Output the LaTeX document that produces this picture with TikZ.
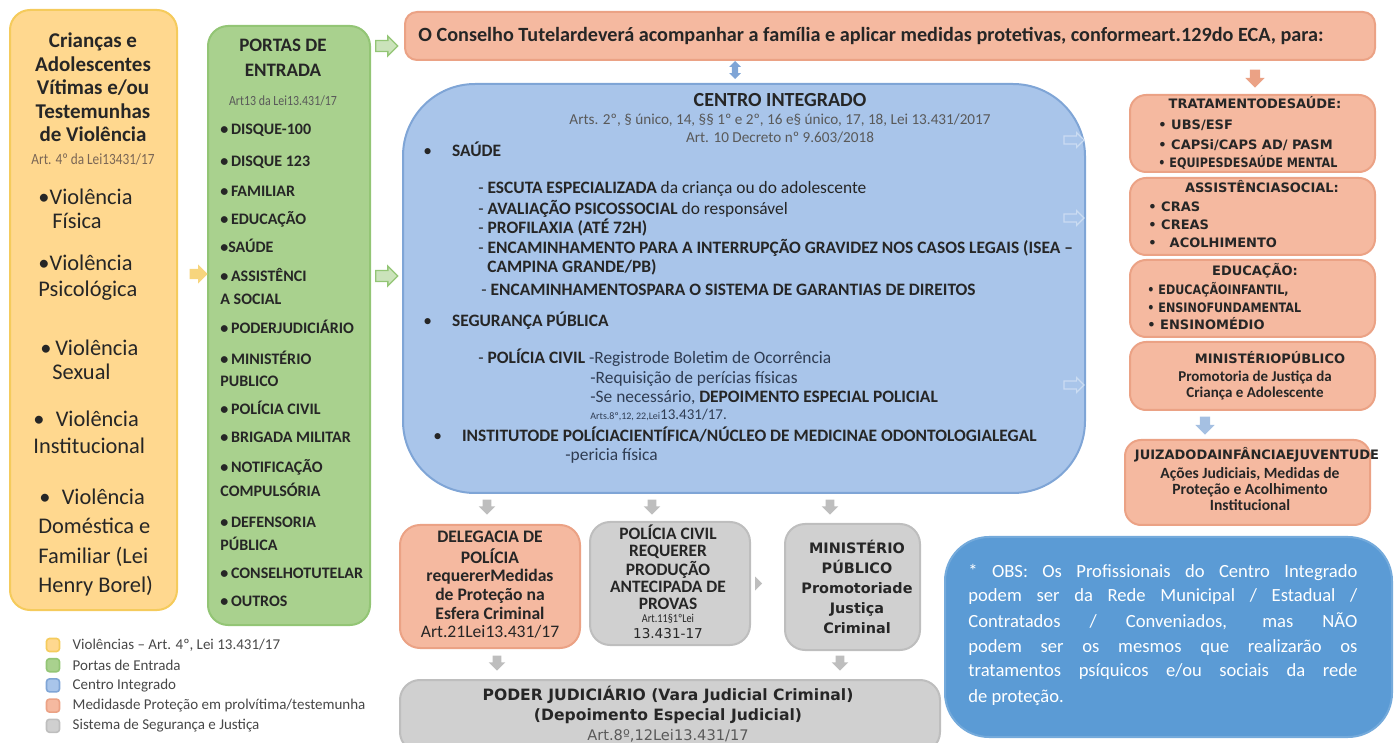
\documentclass[tikz,border=0pt]{standalone}
\usepackage{fontspec}
\setmainfont{Carlito}
\newfontfamily\cnd[FakeStretch=0.85]{Carlito}
\newfontfamily\vfont{DejaVu Sans}
\newfontfamily\vcnd[FakeStretch=0.86]{DejaVu Sans}
\usetikzlibrary{positioning,fit,shapes.arrows}
\definecolor{yfill}{HTML}{FFD88F}
\definecolor{ydraw}{HTML}{F5CB5C}
\definecolor{gfill}{HTML}{A9D18E}
\definecolor{gdraw}{HTML}{93C575}
\definecolor{sfill}{HTML}{F5B9A0}
\definecolor{sdraw}{HTML}{EBA285}
\definecolor{bfill}{HTML}{A9C5EA}
\definecolor{bdraw}{HTML}{7FA5D6}
\definecolor{cfill}{HTML}{D0D0D0}
\definecolor{cdraw}{HTML}{BEBEBE}
\definecolor{ofill}{HTML}{5B9BD5}
\definecolor{txt}{HTML}{262626}
\definecolor{grtxt}{HTML}{595959}
\definecolor{brtxt}{HTML}{7A6655}
\definecolor{navy}{HTML}{2F3C52}
\newcommand{\tabc}[1]{\begin{tabular}[t]{@{}c@{}}#1\end{tabular}}
\tikzset{bbox/.style={rounded corners=10pt,line width=1pt,inner sep=0pt},
         vict/.style={bbox,fill=yfill,draw=ydraw},
         porta/.style={bbox,fill=gfill,draw=gdraw},
         medida/.style={bbox,fill=sfill,draw=sdraw},
         centro/.style={bbox,rounded corners=36pt,fill=bfill,draw=bdraw},
         sist/.style={bbox,fill=cfill,draw=cdraw},
         obsbox/.style={bbox,rounded corners=22pt,fill=ofill,draw=ofill!85!white},
         lbl/.style={inner sep=0pt,text=txt},
         lft/.style={lbl,anchor=base west},
         mid/.style={lbl,anchor=base},
         ctx/.style={lft,font=\fontsize{8.7}{10}\selectfont},
         rtit/.style={mid,font=\vfont\bfseries\fontsize{6.5}{8}\selectfont},
         ritem/.style={lft,font=\vfont\bfseries\fontsize{6.5}{8}\selectfont},
         gitem/.style={lft,font=\bfseries\fontsize{8}{9}\selectfont},
         legsq/.style={rounded corners=1.5pt,line width=0.8pt,minimum size=6.5pt,inner sep=0pt},
         legtx/.style={lbl,text=txt!85!white,font=\fontsize{7.5}{9}\selectfont},
         barrow/.style={single arrow,draw=none,inner xsep=0pt,inner ysep=2.4pt,minimum width=0pt,minimum height=9pt,single arrow head extend=2.2pt},
         darrow/.style={barrow,rotate=-90,fill=cdraw,inner ysep=2pt,single arrow head extend=2pt,minimum height=7.5pt},
         harrow/.style={barrow,fill=none,line width=0.6pt,inner ysep=1.7pt,single arrow head extend=1.7pt,minimum height=10pt}
}

\begin{document}
\begin{tikzpicture}[x=0.5pt,y=-0.5pt]
\useasboundingbox (0,0) rectangle (1394,743);

% boxes
\node[vict,fit={(10,10) (177,610)}] (vit) {};
\node[porta,fit={(208,26) (370,625)}] (portas) {};
\node[medida,rounded corners=6pt,fit={(405,12) (1375,60)}] (conselho) {};
\node[centro,fit={(403,84) (1085,493)}] (centro) {};
\node[medida,rounded corners=8pt,fit={(1130,95) (1375,172)}] (trat) {};
\node[medida,rounded corners=8pt,fit={(1130,178) (1375,255)}] (assist) {};
\node[medida,rounded corners=8pt,fit={(1130,260) (1375,337)}] (educ) {};
\node[medida,rounded corners=8pt,fit={(1130,342) (1375,410)}] (mp) {};
\node[medida,rounded corners=8pt,fit={(1125,440) (1370,525)}] (juiz) {};
\node[medida,fit={(400,525) (580,648)}] (deleg) {};
\node[sist,fit={(590,522) (750,645)}] (pcivil) {};
\node[sist,fit={(785,524) (920,650)}] (mpcrim) {};
\node[sist,fit={(400,680) (940,752)}] (poder) {};
\node[obsbox,fit={(945,537) (1392,737)}] (obs) {};

% criancas e adolescentes
\node[mid,font=\bfseries\fontsize{10.5}{11.75}\selectfont] (vitt) at (93,48) {\tabc{Crianças e\\Adolescentes\\Vítimas e/ou\\Testemunhas\\de Violência}};
\node[mid,text=brtxt,font=\cnd\fontsize{7.8}{9}\selectfont] at (93,165) {Art. 4º da Lei13431/17};
\foreach \xx/\yy/\txt in {38/205/{\textbullet Violência},52/229/Física,38/271/{\textbullet Violência},38/297/Psicológica,
  40/356/{\textbullet\,Violência},52/380/Sexual,33/427/{\textbullet\enspace Violência},33/454/Institucional,
  39/505/{\textbullet\enspace Violência},38/534/{Doméstica e},38/563/{Familiar (Lei},38/592/{Henry Borel)}}
  \node[lft,font=\fontsize{11.2}{12}\selectfont] at (\xx,\yy) {\txt};

% portas de entrada
\node[mid,font=\bfseries\fontsize{9.5}{12.5}\selectfont] (portt) at (283,52) {\tabc{PORTAS DE\\ENTRADA}};
\node[mid,text=grtxt,font=\cnd\fontsize{7}{9}\selectfont] at (283,106) {Art13 da Lei13.431/17};
\foreach \yy/\txt in {135/{\textbullet\,DISQUE-100},167/{\textbullet\,DISQUE 123},197/{\textbullet\,FAMILIAR},
  225/{\textbullet\,EDUCAÇÃO},253/{\textbullet SAÚDE},282/{\textbullet\,ASSISTÊNCI},305/{A SOCIAL},
  334/{\textbullet\,PODERJUDICIÁRIO},365/{\textbullet\,MINISTÉRIO},387/{PUBLICO},415/{\textbullet\,POLÍCIA CIVIL},
  443/{\textbullet\,BRIGADA MILITAR},473/{\textbullet\,NOTIFICAÇÃO},496/{COMPULSÓRIA},528/{\textbullet\,DEFENSORIA},
  551/{PÚBLICA},578/{\textbullet\,CONSELHOTUTELAR},606/{\textbullet\,OUTROS}}
  \node[gitem] at (220,\yy) {\txt};

% conselho tutelar
\node[lft,font=\bfseries\fontsize{10.1}{11}\selectfont] at (418,42) {O Conselho Tutelardeverá acompanhar a família e aplicar medidas protetivas, conformeart.129do ECA, para:};

% centro integrado
\node[mid,font=\bfseries\fontsize{10}{12}\selectfont] (centt) at (780,107) {CENTRO INTEGRADO};
\node[mid,text=grtxt,font=\fontsize{7.6}{9}\selectfont] at (780,125) {\tabc{Arts. 2º, § único, 14, §§ 1º e 2º, 16 e§ único, 17, 18, Lei 13.431/2017\\Art. 10 Decreto nº 9.603/2018}};
\node[ctx] (s1) at (423,157) {\textbullet\hspace{10pt}\textbf{SAÚDE}};
\node[ctx] (s2) at (478,194) {- \textbf{ESCUTA ESPECIALIZADA} da criança ou do adolescente};
\node[ctx] (s3) at (478,215) {- \textbf{AVALIAÇÃO PSICOSSOCIAL} do responsável};
\node[ctx] (s4) at (478,234) {- \textbf{PROFILAXIA (ATÉ 72H)}};
\node[ctx] (s5) at (478,254) {- \textbf{ENCAMINHAMENTO PARA A INTERRUPÇÃO GRAVIDEZ NOS CASOS LEGAIS (ISEA –}};
\node[ctx] (s6) at (487,273) {\textbf{CAMPINA GRANDE/PB)}};
\node[ctx] (s7) at (481,296) {- \textbf{ENCAMINHAMENTOSPARA O SISTEMA DE GARANTIAS DE DIREITOS}};
\node[ctx] (g1) at (423,327) {\textbullet\hspace{10pt}\textbf{SEGURANÇA PÚBLICA}};
\node[ctx] (g2) at (478,364) {- \textbf{POLÍCIA CIVIL} \textcolor{navy}{-Registrode Boletim de Ocorrência}};
\node[ctx,text=navy] (g3) at (590,384) {-Requisição de perícias físicas};
\node[ctx,text=navy] (g4) at (590,403) {-Se necessário, \textcolor{txt}{\textbf{DEPOIMENTO ESPECIAL POLICIAL}}};
\node[ctx,text=navy] (g5) at (590,420) {{\fontsize{5}{6}\selectfont Arts.8º,12, 22,Lei}\fontsize{7.5}{9}\selectfont13.431/17.};
\node[ctx] (i1) at (433,442) {\textbullet\hspace{10pt}\textbf{INSTITUTODE POLÍCIACIENTÍFICA/NÚCLEO DE MEDICINAE ODONTOLOGIALEGAL}};
\node[ctx,text=navy] (i2) at (565,461) {-pericia física};

% rede de protecao
\node[rtit] at (1255,109) {TRATAMENTODESAÚDE:};
\node[ritem] at (1158,130) {\textbullet\ UBS/ESF};
\node[ritem] at (1158,150) {\textbullet\ CAPSi/CAPS AD/ PASM};
\node[ritem,font=\vcnd\bfseries\fontsize{6.5}{8}\selectfont] at (1158,168) {\textbullet\ EQUIPESDESAÚDE MENTAL};
\node[rtit] at (1262,193) {ASSISTÊNCIASOCIAL:};
\node[ritem] at (1148,212) {\textbullet\ CRAS};
\node[ritem] at (1148,230) {\textbullet\ CREAS};
\node[ritem] at (1148,248) {\textbullet\quad ACOLHIMENTO};
\node[rtit] at (1255,276) {EDUCAÇÃO:};
\node[ritem,font=\vcnd\bfseries\fontsize{6.5}{8}\selectfont] at (1147,295) {\textbullet\ EDUCAÇÃOINFANTIL,};
\node[ritem,font=\vcnd\bfseries\fontsize{6.5}{8}\selectfont] at (1147,313) {\textbullet\ ENSINOFUNDAMENTAL};
\node[ritem] at (1147,330) {\textbullet\ ENSINOMÉDIO};
\node[rtit] at (1270,364) {MINISTÉRIOPÚBLICO};
\node[mid,font=\bfseries\fontsize{7.5}{8}\selectfont] at (1255,382) {\tabc{Promotoria de Justiça da\\Criança e Adolescente}};
\node[rtit] at (1257,460) {JUIZADODAINFÂNCIAEJUVENTUDE};
\node[mid,font=\bfseries\fontsize{7.8}{7.8}\selectfont] at (1250,479) {\tabc{Ações Judiciais, Medidas de\\Proteção e Acolhimento\\Institucional}};

% sistema de seguranca e justica
\node[mid,font=\bfseries\fontsize{8.8}{9.3}\selectfont] at (490,543) {\tabc{DELEGACIA DE\\POLÍCIA\\requererMedidas\\de Proteção na\\Esfera Criminal\\\mdseries Art.21Lei13.431/17}};
\node[mid,font=\bfseries\fontsize{8.7}{8.6}\selectfont] at (668,539) {\tabc{POLÍCIA CIVIL\\REQUERER\\PRODUÇÃO\\ANTECIPADA DE\\PROVAS}};
\node[mid,font=\cnd\fontsize{6}{7}\selectfont] at (668,622) {Art.11§1ºLei};
\node[mid,font=\vfont\fontsize{6.8}{8}\selectfont] at (668,639) {13.431-17};
\node[mid,font=\vfont\bfseries\fontsize{7.2}{10}\selectfont] at (857,553) {\tabc{MINISTÉRIO\\PÚBLICO\\Promotoriade\\Justiça\\Criminal}};
\node[mid,font=\vfont\bfseries\fontsize{7.8}{10}\selectfont] at (668,700) {\tabc{PODER JUDICIÁRIO (Vara Judicial Criminal)\\(Depoimento Especial Judicial)\\\mdseries\color{grtxt}\fontsize{7.3}{10}\selectfont Art.8º,12Lei13.431/17}};

% obs
\node[lbl,anchor=base west,text=white,text width=194.5pt,align=justify,font=\fontsize{9.3}{12.5}\selectfont] (obst) at (968,577)
  {* OBS: Os Profissionais do Centro Integrado\linebreak podem ser da Rede Municipal / Estadual /\linebreak Contratados / Conveniados, mas NÃO\linebreak podem ser os mesmos que realizarão os\linebreak tratamentos psíquicos e/ou sociais da rede\linebreak de proteção.};

% setas
\node[barrow,fill=ydraw!80!white] (aY) at (196,274) {};
\node[barrow,fill=gfill!60!white,draw=gdraw,line width=0.7pt,minimum height=11pt] (aG1) at (384,46) {};
\node[barrow,fill=gfill!60!white,draw=gdraw,line width=0.7pt,minimum height=11pt] (aG2) at (384,276) {};
\node[double arrow,rotate=90,fill=bdraw,inner xsep=0pt,inner ysep=1.4pt,minimum width=0pt,minimum height=9pt,double arrow head extend=1.3pt] (aCT) at (735,70) {};
\foreach \yy [count=\i] in {140,218,385}
  \node[harrow,draw=bfill!60!white] (aB\i) at (1072,\yy) {};
\node[barrow,rotate=-90,fill=sdraw] (aS) at (1255,76) {};
\node[barrow,rotate=-90,fill=bdraw!70!white] (aJ) at (1205,423) {};
\foreach \xx/\yy [count=\i] in {487/505,652/505,830/505,497/661,840/661}
  \node[darrow] (aD\i) at (\xx,\yy) {};
\draw[fill=cdraw,draw=none] ([xshift=2pt,yshift=3.5pt]pcivil.east) -- ++(0,-7pt) -- ++(3.5pt,3.5pt) -- cycle;

% legenda
\node[legsq,fill=yfill,draw=ydraw] (lg1) at (53,645) {};
\node[legsq,fill=gfill,draw=gdraw,below=2.8pt of lg1] (lg2) {};
\node[legsq,fill=bfill,draw=bdraw,below=2.8pt of lg2] (lg3) {};
\node[legsq,fill=sfill,draw=sdraw,below=2.8pt of lg3] (lg4) {};
\node[legsq,fill=cfill,draw=cdraw,below=2.8pt of lg4] (lg5) {};
\node[legtx,right=6pt of lg1] {Violências – Art. 4º, Lei 13.431/17};
\node[legtx,right=6pt of lg2] {Portas de Entrada};
\node[legtx,right=6pt of lg3] {Centro Integrado};
\node[legtx,right=6pt of lg4] {Medidasde Proteção em prolvítima/testemunha};
\node[legtx,right=6pt of lg5] {Sistema de Segurança e Justiça};

\end{tikzpicture}
\end{document}
